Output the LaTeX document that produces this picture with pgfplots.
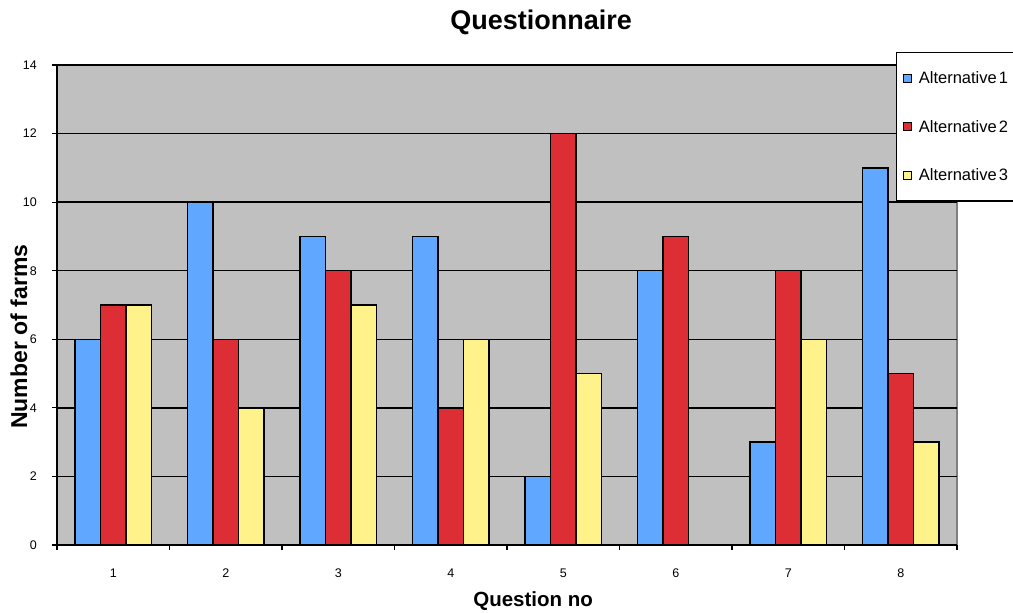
\documentclass[border=0pt]{standalone}
\usepackage{pgfplots}
\pgfplotsset{compat=1.18}
\usepackage{fontspec}
\setmainfont{Liberation Sans}
\definecolor{bblue}{RGB}{96,168,255}
\definecolor{bred}{RGB}{221,46,53}
\definecolor{byellow}{RGB}{255,242,138}
\definecolor{bggray}{RGB}{192,192,192}
\definecolor{edgegray}{RGB}{128,128,128}
\begin{document}
\begin{tikzpicture}
\useasboundingbox (0,0) rectangle (1013pt,613pt);
\begin{axis}[
  at={(57pt,68pt)}, anchor=south west,
  scale only axis, width=900pt, height=480pt,
  ybar=0pt, bar width=25.4pt,
  xmin=0.5, xmax=8.5, ymin=0, ymax=14,
  axis x line=bottom, axis y line=left,
  axis line style={-, line width=1.5pt, black},
  every outer x axis line/.append style={-},
  every outer y axis line/.append style={-},
  axis background/.style={fill=bggray, draw=edgegray, line width=1.2pt},
  xtick={0.5,1.5,...,8.5}, xticklabels={},
  extra x ticks={1,2,3,4,5,6,7,8},
  extra x tick labels={1,2,3,4,5,6,7,8},
  extra x tick style={major tick length=0pt, grid=none},
  ytick={0,2,...,14},
  tick align=outside, major tick length=5pt,
  tick style={black, line width=1.2pt},
  ymajorgrids, major grid style={black, line width=1.3pt},
  /pgf/number format/assume math mode=true,
  tick label style={font=\fontsize{12.5}{14}\selectfont},
  yticklabel style={anchor=east, inner sep=0pt, xshift=-15pt},
  xticklabel style={anchor=north, inner sep=0pt, yshift=-24pt},
  title={Questionnaire},
  title style={at={(axis description cs:0.5378,1.075)}, anchor=base, yshift=-7pt, font=\bfseries\fontsize{27}{31}\selectfont},
  xlabel={Question no},
  xlabel style={at={(axis description cs:0.529,-0.129)}, anchor=base, font=\bfseries\fontsize{20.5}{24}\selectfont},
  ylabel={Number of farms},
  ylabel style={at={(axis description cs:-0.0333,0.434)}, anchor=base, font=\bfseries\fontsize{23}{27}\selectfont},
  legend style={at={(axis description cs:0.9322,1.0271)}, anchor=north west,
    draw=black, line width=1.3pt, fill=white, font=\fontsize{16.5}{19}\selectfont,
    inner xsep=6pt, inner ysep=17pt, row sep=31pt,
    /tikz/every odd column/.append style={column sep=5pt},
    /tikz/every even column/.append style={text width=110pt}},
  legend cell align=left,
  legend image code/.code={\draw[#1, line width=1.2pt] (0pt,-4pt) rectangle (8pt,4pt);},
]
\addplot[fill=bblue, draw=black, line width=1.5pt] coordinates {(1,6) (2,10) (3,9) (4,9) (5,2) (6,8) (7,3) (8,11)};
\addplot[fill=bred, draw=black, line width=1.5pt] coordinates {(1,7) (2,6) (3,8) (4,4) (5,12) (6,9) (7,8) (8,5)};
\addplot[fill=byellow, draw=black, line width=1.5pt] coordinates {(1,7) (2,4) (3,7) (4,6) (5,5) (6,0) (7,6) (8,3)};
\legend{Alternative\hspace{2pt}1, Alternative\hspace{2pt}2, Alternative\hspace{2pt}3}
\end{axis}
\end{tikzpicture}
\end{document}
